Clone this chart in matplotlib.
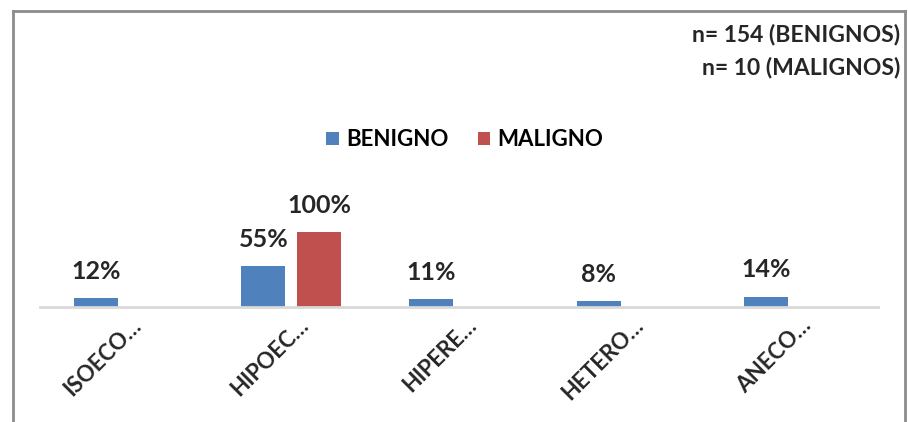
import numpy as np
import matplotlib.pyplot as plt
from matplotlib.lines import Line2D
import matplotlib.transforms as mtransforms

# Datos
categorias = ['ISOECO…', 'HIPOEC…', 'HIPERE…', 'HETERO…', 'ANECO…']
benigno = [12, 55, 11, 8, 14]
maligno = [None, 100, None, None, None]
etiquetas_n = ['n= 154 (BENIGNOS)', 'n= 10 (MALIGNOS)']

azul = '#4f81bd'
rojo = '#c0504d'
texto = '#262626'
plt.rcParams['font.family'] = ['Lato', 'DejaVu Sans']

W, H = 908, 422
fig = plt.figure(figsize=(W / 100, H / 100), dpi=100)
ax = fig.add_axes([40 / W, 115 / H, 838 / W, 150 / H])

x = np.arange(len(categorias))
ancho = 0.263
off = 0.167

b1 = ax.bar(x - off, benigno, ancho, color=azul, label='BENIGNO')
xm = [xi + off for xi, v in zip(x, maligno) if v is not None]
vm = [v for v in maligno if v is not None]
b2 = ax.bar(xm, vm, ancho, color=rojo, label='MALIGNO')

# Etiquetas de porcentaje
for xi, v in list(zip(x - off, benigno)) + list(zip(xm, vm)):
    ax.annotate(f'{v}%', (xi, v), xytext=(0, 13.7), textcoords='offset points',
                ha='center', va='baseline', fontsize=18, fontweight='bold', color=texto)

ax.set_xlim(-0.5, len(categorias) - 0.5)
ax.set_ylim(0, 200)
ax.set_yticks([])
ax.set_xticks(x)
ax.tick_params(axis='x', length=0, pad=0)
desplaz = mtransforms.ScaledTranslation(14 / 100, -15 / 100, fig.dpi_scale_trans)
ax.set_xticklabels(categorias, rotation=45, ha='right', va='center',
                   rotation_mode='anchor', fontsize=16, fontweight='bold', color=texto)
for lab in ax.get_xticklabels():
    lab.set_transform(ax.get_xaxis_transform() + desplaz)
    lab.set_y(0)

for s in ['top', 'right', 'left']:
    ax.spines[s].set_visible(False)
ax.spines['bottom'].set_color('#d9d9d9')
ax.spines['bottom'].set_linewidth(2)

fig.legend(handles=[b1, b2], loc='center', bbox_to_anchor=(465 / W, 1 - 140 / H),
           ncol=2, frameon=False, prop={'size': 16, 'weight': 'bold'},
           handlelength=0.55, handleheight=0.55, handletextpad=0.35, columnspacing=1.3,
           borderaxespad=0, borderpad=0)

fig.text(900 / W, 1 - 41 / H, etiquetas_n[0], ha='right', va='baseline',
         fontsize=16.5, fontweight='bold', color=texto)
fig.text(900 / W, 1 - 74 / H, etiquetas_n[1], ha='right', va='baseline',
         fontsize=16.5, fontweight='bold', color=texto)

# Borde del cuadro
gris = '#8c8c8c'
fig.add_artist(Line2D([13 / W, 13 / W], [0, 1 - 11 / H], color=gris, lw=2))
fig.add_artist(Line2D([13 / W, 905 / W], [1 - 11 / H, 1 - 11 / H], color=gris, lw=2))
fig.add_artist(Line2D([905 / W, 905 / W], [0, 1 - 11 / H], color=gris, lw=2))

fig.savefig('out.png', dpi=100)
